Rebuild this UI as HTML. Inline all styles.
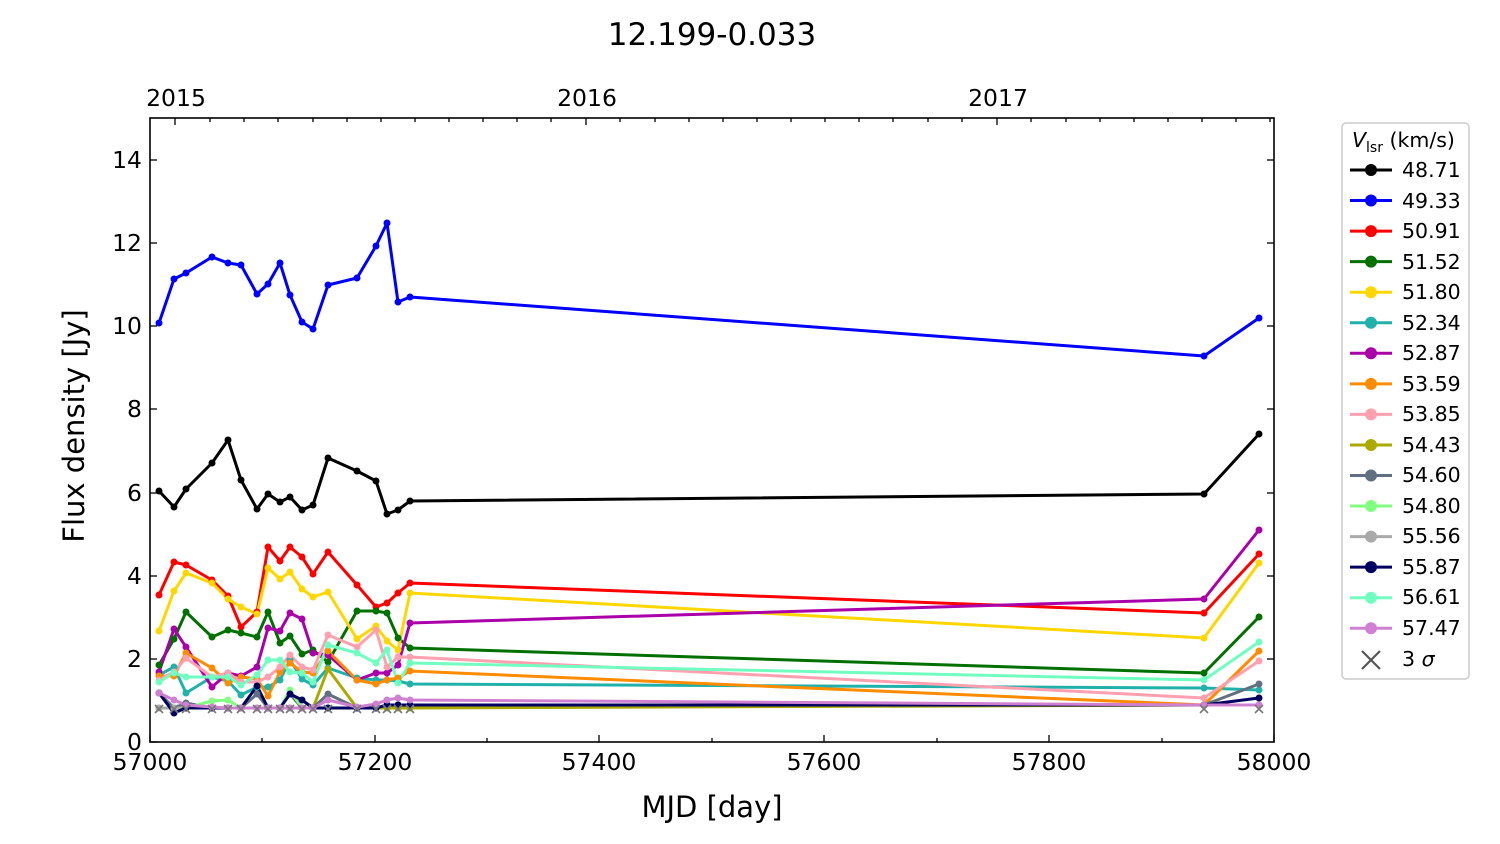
<!DOCTYPE html>
<html><head><meta charset="utf-8"><style>body{margin:0;background:#fff}svg{display:block;font-family:"DejaVu Sans","Liberation Sans",sans-serif}</style></head><body>
<svg id="s" width="1500" height="844" viewBox="0 0 1500 844" xmlns="http://www.w3.org/2000/svg">
<rect width="1500" height="844" fill="#fff"/>
<text x="712" y="45" font-size="31" text-anchor="middle">12.199-0.033</text>
<g id="lines" fill="none" stroke-width="3" stroke-linejoin="round"></g>
<g id="marks"></g>
<rect x="150" y="118" width="1124" height="624" fill="none" stroke="#000" stroke-width="1.6"/>
<g stroke="#000" stroke-width="1.3">
<line x1="150" y1="742" x2="150" y2="735"/><line x1="375" y1="742" x2="375" y2="735"/><line x1="599" y1="742" x2="599" y2="735"/><line x1="824" y1="742" x2="824" y2="735"/><line x1="1049" y1="742" x2="1049" y2="735"/><line x1="1274" y1="742" x2="1274" y2="735"/>
<line x1="262" y1="742" x2="262" y2="738"/><line x1="487" y1="742" x2="487" y2="738"/><line x1="712" y1="742" x2="712" y2="738"/><line x1="937" y1="742" x2="937" y2="738"/><line x1="1162" y1="742" x2="1162" y2="738"/>
<line x1="150" y1="742" x2="157" y2="742"/><line x1="150" y1="659" x2="157" y2="659"/><line x1="150" y1="576" x2="157" y2="576"/><line x1="150" y1="493" x2="157" y2="493"/><line x1="150" y1="409" x2="157" y2="409"/><line x1="150" y1="326" x2="157" y2="326"/><line x1="150" y1="243" x2="157" y2="243"/><line x1="150" y1="160" x2="157" y2="160"/>
<line x1="1274" y1="659" x2="1267" y2="659"/><line x1="1274" y1="576" x2="1267" y2="576"/><line x1="1274" y1="493" x2="1267" y2="493"/><line x1="1274" y1="409" x2="1267" y2="409"/><line x1="1274" y1="326" x2="1267" y2="326"/><line x1="1274" y1="243" x2="1267" y2="243"/><line x1="1274" y1="160" x2="1267" y2="160"/>
<line x1="175" y1="118" x2="175" y2="125"/><line x1="586" y1="118" x2="586" y2="125"/><line x1="997" y1="118" x2="997" y2="125"/>
<line x1="210" y1="118" x2="210" y2="122"/><line x1="244" y1="118" x2="244" y2="122"/><line x1="278" y1="118" x2="278" y2="122"/><line x1="313" y1="118" x2="313" y2="122"/><line x1="347" y1="118" x2="347" y2="122"/><line x1="381" y1="118" x2="381" y2="122"/><line x1="415" y1="118" x2="415" y2="122"/><line x1="449" y1="118" x2="449" y2="122"/><line x1="483" y1="118" x2="483" y2="122"/><line x1="517" y1="118" x2="517" y2="122"/><line x1="551" y1="118" x2="551" y2="122"/><line x1="620" y1="118" x2="620" y2="122"/><line x1="655" y1="118" x2="655" y2="122"/><line x1="689" y1="118" x2="689" y2="122"/><line x1="723" y1="118" x2="723" y2="122"/><line x1="757" y1="118" x2="757" y2="122"/><line x1="791" y1="118" x2="791" y2="122"/><line x1="825" y1="118" x2="825" y2="122"/><line x1="859" y1="118" x2="859" y2="122"/><line x1="893" y1="118" x2="893" y2="122"/><line x1="928" y1="118" x2="928" y2="122"/><line x1="962" y1="118" x2="962" y2="122"/><line x1="1031" y1="118" x2="1031" y2="122"/><line x1="1066" y1="118" x2="1066" y2="122"/><line x1="1100" y1="118" x2="1100" y2="122"/><line x1="1134" y1="118" x2="1134" y2="122"/><line x1="1168" y1="118" x2="1168" y2="122"/><line x1="1202" y1="118" x2="1202" y2="122"/><line x1="1236" y1="118" x2="1236" y2="122"/><line x1="1270" y1="118" x2="1270" y2="122"/>
</g>
<g font-size="23.5" text-anchor="middle">
<text x="150" y="770">57000</text><text x="375" y="770">57200</text><text x="599" y="770">57400</text><text x="824" y="770">57600</text><text x="1049" y="770">57800</text><text x="1274" y="770">58000</text>
<text x="176" y="106">2015</text><text x="587" y="106">2016</text><text x="998" y="106">2017</text>
</g>
<g font-size="23.5" text-anchor="end">
<text x="142" y="750">0</text><text x="142" y="667">2</text><text x="142" y="584">4</text><text x="142" y="501">6</text><text x="142" y="417">8</text><text x="142" y="334">10</text><text x="142" y="251">12</text><text x="142" y="168">14</text>
</g>
<text x="712" y="817" font-size="29" text-anchor="middle">MJD [day]</text>
<text transform="translate(84,426) rotate(-90)" font-size="29" text-anchor="middle">Flux density [Jy]</text>
<rect x="1342" y="123" width="127" height="556" rx="4" fill="#fff" stroke="#ccc" stroke-width="1.5"/>
<text x="1352" y="147" font-size="20.5"><tspan font-style="italic">V</tspan><tspan font-size="14" dy="5">lsr</tspan><tspan dy="-5"> (km/s)</tspan></text>
<g id="legm"></g>
<g id="leg" font-size="20.5">
<text x="1402" y="177">48.71</text><text x="1402" y="208">49.33</text><text x="1402" y="238">50.91</text><text x="1402" y="269">51.52</text><text x="1402" y="299">51.80</text><text x="1402" y="330">52.34</text><text x="1402" y="360">52.87</text><text x="1402" y="391">53.59</text><text x="1402" y="421">53.85</text><text x="1402" y="452">54.43</text><text x="1402" y="482">54.60</text><text x="1402" y="513">54.80</text><text x="1402" y="543">55.56</text><text x="1402" y="574">55.87</text><text x="1402" y="604">56.61</text><text x="1402" y="635">57.47</text><text x="1402" y="666">3 <tspan font-style="italic">σ</tspan></text>
</g>
<g stroke="#555" stroke-width="2.2"><line x1="1362" y1="651" x2="1380" y2="669"/><line x1="1362" y1="669" x2="1380" y2="651"/></g>
<script>
var X=[159,174,186,212,228,241,257,268,280,290,302,313,328,357,376,387,398,410,1204,1259];
var S=[
["#000",[491,507,489,463,440,480,509,494,502,497,510,505,458,471,481,514,510,501,494,434]],
["#0000ff",[323,279,273,257,263,265,294,284,263,295,322,329,285,278,246,223,302,297,356,318]],
["#ff0000",[595,562,565,580,596,627,612,547,561,547,557,574,552,585,607,603,593,583,613,554]],
["#007000",[665,639,612,637,630,633,637,612,643,636,654,650,662,611,611,613,638,648,673,617]],
["#ffd700",[631,591,573,583,599,607,614,568,579,572,589,597,592,639,626,641,650,593,638,563]],
["#20b2aa",[675,667,693,677,681,695,687,687,680,660,679,685,668,678,680,680,681,684,688,690]],
["#aa00aa",[672,629,647,687,673,676,667,628,631,613,619,653,655,680,673,673,665,623,599,530]],
["#ff8c00",[676,676,653,668,683,677,679,696,672,663,672,673,651,680,684,680,678,671,705,651]],
["#ffa0b0",[680,672,658,677,673,682,682,677,667,655,667,670,635,647,630,667,657,657,698,661]],
["#aaaa00",[708,708,708,708,708,708,708,708,708,708,708,708,669,708,708,708,708,708,705,705]],
["#607080",[693,708,703,708,708,708,694,708,708,694,708,708,694,708,708,705,705,705,705,684]],
["#80ff80",[708,708,708,701,700,708,708,708,708,690,708,708,708,708,708,705,705,705,705,705]],
["#aaaaaa",[708,708,708,708,708,708,708,708,708,708,708,708,708,708,708,705,705,705,705,705]],
["#000060",[693,713,708,708,708,708,686,708,708,694,700,708,708,708,708,705,705,705,705,698]],
["#70ffc0",[682,673,677,677,677,685,675,660,660,672,673,682,645,653,663,650,683,663,680,642]],
["#d080d0",[693,700,705,707,708,708,708,708,708,708,708,708,700,707,704,700,698,700,705,705]]];
var ns="http://www.w3.org/2000/svg",L=document.getElementById("lines"),M=document.getElementById("marks"),G=document.getElementById("legm");
function el(p,t,a){var e=document.createElementNS(ns,t);for(var k in a)e.setAttribute(k,a[k]);p.appendChild(e);return e;}
S.forEach(function(s,i){var pts=X.map(function(x,j){return x+","+s[1][j]}).join(" ");
el(L,"polyline",{points:pts,stroke:s[0]});
X.forEach(function(x,j){el(M,"circle",{cx:x,cy:s[1][j],r:3.5,fill:s[0]});});
var y=170+i*30.55;el(G,"line",{x1:1350,y1:y,x2:1392,y2:y,stroke:s[0],"stroke-width":3});
el(G,"circle",{cx:1371,cy:y,r:6,fill:s[0]});});
X.forEach(function(x){var y=709;el(M,"path",{d:"M"+(x-4)+","+(y-4)+"l8,8M"+(x-4)+","+(y+4)+"l8,-8",stroke:"#777","stroke-width":1.6});});
</script>
</svg>
</body></html>
